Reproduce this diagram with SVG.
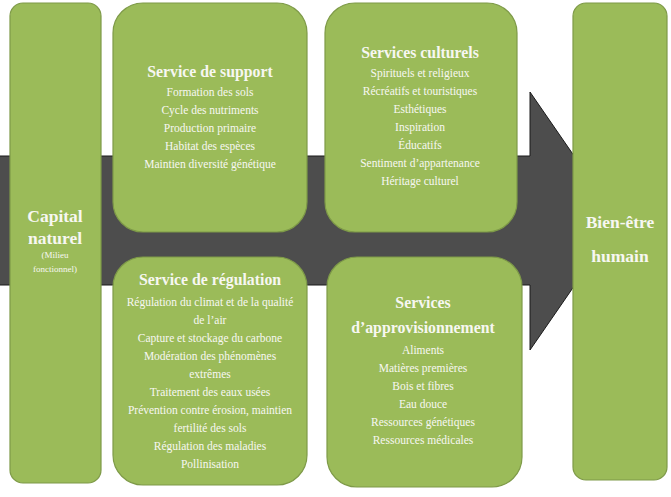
<svg xmlns="http://www.w3.org/2000/svg" width="671" height="497" viewBox="0 0 671 497">
<style>
.box{fill:#9bbb59;stroke:#7e9a48;stroke-width:1.2}
text{font-family:'Liberation Serif','DejaVu Serif',serif;fill:#f7f7f2;text-anchor:middle}
.t{font-size:15.8px;font-weight:bold}
.big{font-size:17.5px;font-weight:bold}
.l{font-size:11.5px}
.s{font-size:9px}
</style>
<rect width="671" height="497" fill="#ffffff"/>
<g id="connectors">
<path d="M-2,156 L530,156 L530,92 L619,221 L530,350 L530,285 L-2,285 Z" fill="#4d4d4d" stroke="#1a1a1a" stroke-width="1"/>
</g>
<g id="capital">
<rect class="box" x="10" y="3" width="91" height="480" rx="13"/>
<text class="big" x="55" y="222">Capital</text>
<text class="big" x="55" y="244">naturel</text>
<text class="s" x="55" y="258">(Milieu</text>
<text class="s" x="55" y="272">fonctionnel)</text>
</g>
<g id="support">
<rect class="box" x="113" y="3" width="194" height="229" rx="30"/>
<text class="t" x="210" y="77">Service de support</text>
<text class="l" x="210" y="96">Formation des sols</text>
<text class="l" x="210" y="114">Cycle des nutriments</text>
<text class="l" x="210" y="132">Production primaire</text>
<text class="l" x="210" y="150">Habitat des espèces</text>
<text class="l" x="210" y="168">Maintien diversité génétique</text>
</g>
<g id="culturels">
<rect class="box" x="325" y="3" width="192" height="229" rx="30"/>
<text class="t" x="420" y="58">Services culturels</text>
<text class="l" x="420" y="77">Spirituels et religieux</text>
<text class="l" x="420" y="95">Récréatifs et touristiques</text>
<text class="l" x="420" y="113">Esthétiques</text>
<text class="l" x="420" y="131">Inspiration</text>
<text class="l" x="420" y="149">Éducatifs</text>
<text class="l" x="420" y="167">Sentiment d’appartenance</text>
<text class="l" x="420" y="185">Héritage culturel</text>
</g>
<g id="bienetre">
<rect class="box" x="573" y="3" width="94" height="477" rx="13"/>
<text class="big" x="620" y="228">Bien-être</text>
<text class="big" x="620" y="262">humain</text>
</g>
<g id="regulation">
<rect class="box" x="113" y="257" width="194" height="228" rx="30"/>
<text class="t" x="210" y="285">Service de régulation</text>
<text class="l" x="210" y="306">Régulation du climat et de la qualité</text>
<text class="l" x="210" y="324">de l’air</text>
<text class="l" x="210" y="342">Capture et stockage du carbone</text>
<text class="l" x="210" y="360">Modération des phénomènes</text>
<text class="l" x="210" y="378">extrêmes</text>
<text class="l" x="210" y="396">Traitement des eaux usées</text>
<text class="l" x="210" y="414">Prévention contre érosion, maintien</text>
<text class="l" x="210" y="432">fertilité des sols</text>
<text class="l" x="210" y="450">Régulation des maladies</text>
<text class="l" x="210" y="468">Pollinisation</text>
</g>
<g id="approvisionnement">
<rect class="box" x="327" y="257" width="195" height="230" rx="30"/>
<text class="t" x="423" y="308">Services</text>
<text class="t" x="423" y="333">d’approvisionnement</text>
<text class="l" x="423" y="354">Aliments</text>
<text class="l" x="423" y="372">Matières premières</text>
<text class="l" x="423" y="390">Bois et fibres</text>
<text class="l" x="423" y="408">Eau douce</text>
<text class="l" x="423" y="426">Ressources génétiques</text>
<text class="l" x="423" y="444">Ressources médicales</text>
</g>
</svg>
